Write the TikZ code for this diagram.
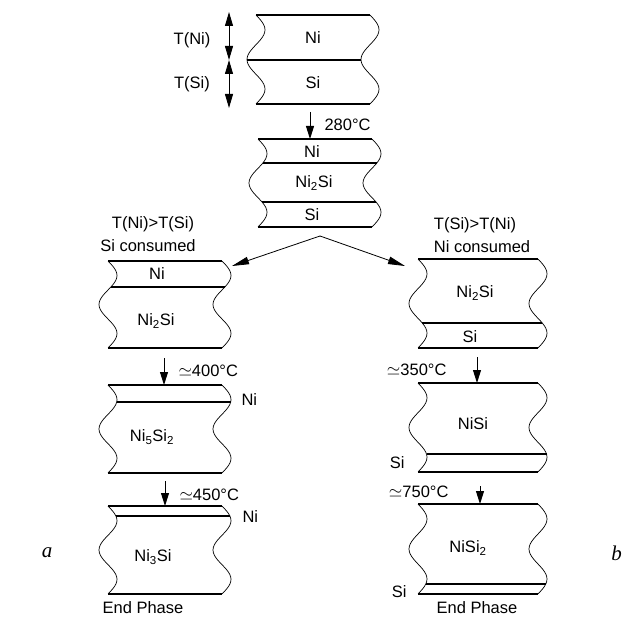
\documentclass[tikz,border=0pt]{standalone}
\usepackage{fontspec}
\setmainfont{Liberation Sans}
\newfontfamily\serifit{Liberation Serif}
\usetikzlibrary{arrows.meta}

\tikzset{
  slabline/.style={line width=1.1pt},
  cutedge/.style={line width=0.7pt},
  gauge/.style={line width=0.9pt,{Triangle[length=14pt,width=8pt]}-{Triangle[length=14pt,width=8pt]}},
  heat/.style={line width=0.9pt,-{Triangle[length=13pt,width=8pt]}},
  branch/.style={line width=0.8pt,-{Triangle[length=17pt,width=7.5pt]}},
}

% wavy cut slab: left x, top y, bottom y, width
\newcommand{\slab}[4]{%
  \draw[cutedge] plot[domain=0:1,samples=37,smooth,variable=\t]
    ({#1+9*sin(540*\t)},{#2+(#3-#2)*\t});
  \draw[cutedge] plot[domain=0:1,samples=37,smooth,variable=\t]
    ({#1+#4+9*sin(540*\t)},{#2+(#3-#2)*\t});
  \draw[slabline] (#1,#2) -- ++(#4,0);
  \draw[slabline] (#1,#3) -- ++(#4,0);
}
% interface inside a slab: left x, top y, bottom y, width, y of the interface
\newcommand{\layercut}[5]{%
  \pgfmathsetmacro{\cutshift}{9*sin(540*((#5-#2)/(#3-#2)))}
  \draw[slabline] ({#1+\cutshift},#5) -- ++(#4,0);
}

\begin{document}
\begin{tikzpicture}[x=1pt,y=-1pt,font=\fontsize{16.5}{18}\selectfont]
  \useasboundingbox (0,0) rectangle (623,617);

  % as deposited
  \slab{256}{15}{104}{114}
  \layercut{256}{15}{104}{114}{60}
  \node (ni0) at (313,38) {Ni};
  \node (si0) at (313,83) {Si};
  \coordinate (g0) at (229,12);
  \coordinate (g1) at (229,60);
  \coordinate (g2) at (229,108);
  \draw[gauge] (g0) -- (g1);
  \draw[gauge] (g1) -- (g2);
  \node (tni) at (192,40) {T(Ni)};
  \node (tsi) at (192,84) {T(Si)};

  % first anneal
  \coordinate (h1a) at (310,112);
  \coordinate (h1b) at (310,139);
  \draw[heat] (h1a) -- (h1b);
  \node[anchor=west] (h1) at (321,125) {280°C};
  \slab{258}{139}{227}{114}
  \layercut{258}{139}{227}{114}{163}
  \layercut{258}{139}{227}{114}{202}
  \node (ni1) at (312,152) {Ni};
  \node (nis1) at (314,183) {Ni\textsubscript{2}Si};
  \node (si1) at (312,215) {Si};

  % the two branches
  \coordinate (fork) at (320,236);
  \coordinate (tol) at (232,266);
  \coordinate (tor) at (405,266);
  \draw[branch] (fork) -- (tol);
  \draw[branch] (fork) -- (tor);

  % left: Si consumed
  \node (hl1) at (153,224) {T(Ni)>T(Si)};
  \node (hl2) at (148,246) {Si consumed};
  \slab{108}{261}{348}{114}
  \layercut{108}{261}{348}{114}{287}
  \node (nil1) at (157,274) {Ni};
  \node (nisl1) at (156,321) {Ni\textsubscript{2}Si};
  \coordinate (h2a) at (164,358);
  \coordinate (h2b) at (164,385);
  \draw[heat] (h2a) -- (h2b);
  \node[anchor=west] (h2) at (175,371) {$\simeq$400°C};
  \slab{108}{385}{473}{114}
  \layercut{108}{385}{473}{114}{402}
  \node[anchor=west] (nil2) at (238,400) {Ni};
  \node (nisl2) at (152,437) {Ni\textsubscript{5}Si\textsubscript{2}};
  \coordinate (h3a) at (165,481);
  \coordinate (h3b) at (165,506);
  \draw[heat] (h3a) -- (h3b);
  \node[anchor=west] (h3) at (176,495) {$\simeq$450°C};
  \slab{108}{506}{594}{114}
  \layercut{108}{506}{594}{114}{516}
  \node[anchor=west] (nil3) at (239,517) {Ni};
  \node (nisl3) at (153,557) {Ni\textsubscript{3}Si};
  \node (endl) at (143,608) {End Phase};

  % right: Ni consumed
  \node (hr1) at (475,225) {T(Si)>T(Ni)};
  \node (hr2) at (482,247) {Ni consumed};
  \slab{418}{259}{348}{120}
  \layercut{418}{259}{348}{120}{323}
  \node (nisr1) at (475,293) {Ni\textsubscript{2}Si};
  \node (sir1) at (470,337) {Si};
  \coordinate (h4a) at (477,357);
  \coordinate (h4b) at (477,383);
  \draw[heat] (h4a) -- (h4b);
  \node[anchor=east] (h4) at (450,370) {$\simeq$350°C};
  \slab{418}{383}{472}{120}
  \layercut{418}{383}{472}{120}{454}
  \node (nisr2) at (473,424) {NiSi};
  \node[anchor=east] (sir2) at (408,463) {Si};
  \coordinate (h5a) at (480,486);
  \coordinate (h5b) at (480,504);
  \draw[heat] (h5a) -- (h5b);
  \node[anchor=east] (h5) at (452,492) {$\simeq$750°C};
  \slab{418}{504}{594}{120}
  \layercut{418}{504}{594}{120}{584}
  \node (nisr3) at (468,548) {NiSi\textsubscript{2}};
  \node[anchor=east] (sir3) at (410,592) {Si};
  \node (endr) at (477,608) {End Phase};

  % panel letters
  \node (la) at (47,553) {\fontsize{21}{23}\selectfont\serifit\itshape a};
  \node[anchor=east,inner sep=1pt] (lb) at (623,553) {\fontsize{21}{23}\selectfont\serifit\itshape b};
\end{tikzpicture}
\end{document}
